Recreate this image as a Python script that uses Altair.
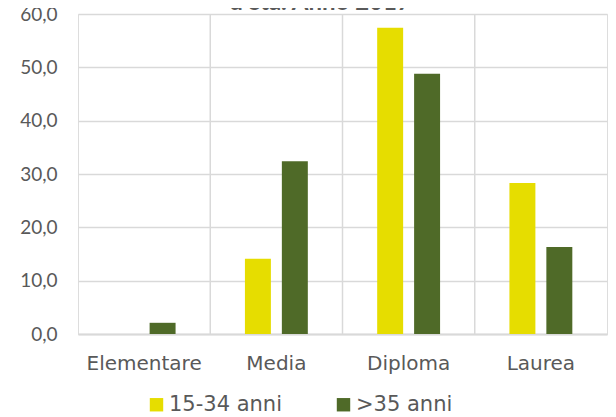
import altair as alt
import pandas as pd

categories = ["Elementare", "Media", "Diploma", "Laurea"]
series_names = ["15-34 anni", ">35 anni"]
young = [0.0, 14.1, 57.4, 28.3]
older = [2.1, 32.4, 48.8, 16.3]
y_ticks = [0, 10, 20, 30, 40, 50, 60]
title_text = "d'età. Anno 2017"
colors = ["#e6dd00", "#4f6a28"]

rows = []
for c, a, b in zip(categories, young, older):
    rows.append({"cat": c, "serie": series_names[0], "val": a})
    rows.append({"cat": c, "serie": series_names[1], "val": b})
df = pd.DataFrame(rows)

FONT = "Lato"
WFONT = "DejaVu Sans"
GRAY = "#595959"
GRID = "#d9d9d9"

x_scale = alt.Scale(domain=categories, paddingInner=0, paddingOuter=0)

bars = alt.Chart(df).mark_bar().encode(
    x=alt.X("cat:N", scale=x_scale, sort=categories, title=None,
            axis=alt.Axis(labelAngle=0, labelFont=WFONT, labelFontSize=20,
                          labelColor=GRAY, labelPadding=19, ticks=False,
                          domain=True, domainColor=GRID, domainWidth=2, grid=False)),
    xOffset=alt.XOffset("serie:N", sort=series_names,
                        scale=alt.Scale(domain=series_names, paddingInner=0.297, paddingOuter=0.939)),
    y=alt.Y("val:Q", scale=alt.Scale(domain=[0, 60], nice=False), title=None,
            axis=alt.Axis(values=y_ticks, labelExpr="replace(format(datum.value, '.1f'), '.', ',')",
                          labelFont=FONT, labelFontSize=19, labelColor=GRAY, labelPadding=21,
                          ticks=False, domain=False, grid=True, gridColor=GRID, gridWidth=1.5)),
    color=alt.Color("serie:N", sort=series_names,
                    scale=alt.Scale(domain=series_names, range=colors),
                    legend=alt.Legend(title=None, orient="none", direction="horizontal",
                                      legendX=68, legendY=380, symbolType="square",
                                      symbolSize=180, symbolStrokeWidth=0, labelFont=WFONT,
                                      labelFontSize=21, labelColor=GRAY, columnPadding=50,
                                      labelOffset=2)),
)

sep_df = pd.DataFrame({"cat": categories[1:]})
seps = alt.Chart(sep_df).mark_rule(color=GRID, strokeWidth=1.5).encode(
    x=alt.X("cat:N", bandPosition=0, scale=x_scale, sort=categories, axis=None),
)

title_df = pd.DataFrame({"t": [title_text]})
title = alt.Chart(title_df).mark_text(font=FONT, fontSize=24, fontWeight="bold",
                                      color=GRAY, baseline="alphabetic", align="center").encode(
    x=alt.value(242), y=alt.value(-4), text="t:N"
)

chart = alt.layer(seps, bars, title).resolve_axis(x="independent").properties(
    width=529, height=320,
    padding={"left": 70, "top": 6, "right": 1, "bottom": 82},
    autosize=alt.AutoSizeParams(type="none"),
).configure_view(
    fill="#f3f3f3", stroke=GRID, strokeWidth=2
).configure(background="white")

chart.save("out.html", embed_options={"renderer": "svg", "actions": False})
